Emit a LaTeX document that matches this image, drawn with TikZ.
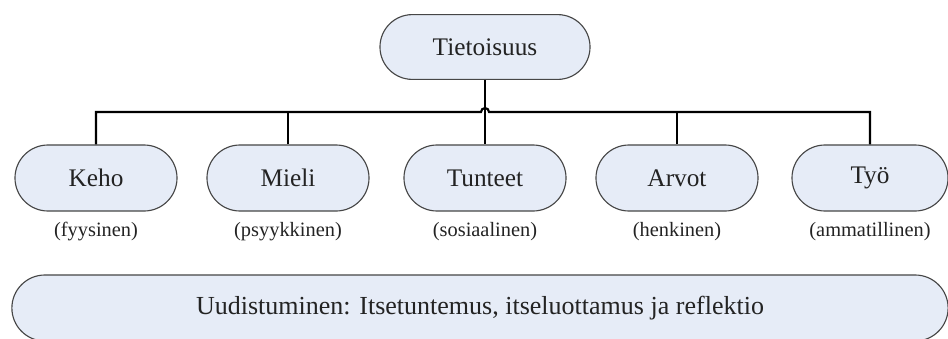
\documentclass[tikz,border=0pt]{standalone}
\usepackage{fontspec}
\setmainfont{Liberation Serif}
\usetikzlibrary{shapes.misc}
\definecolor{boxfill}{RGB}{230,236,247}
\definecolor{boxline}{RGB}{70,70,70}
\definecolor{txt}{RGB}{35,35,35}
\tikzset{
  ovalbox/.style={rounded rectangle, draw=boxline, line width=0.8pt, fill=boxfill,
    inner sep=0pt, text=txt, font=\fontsize{18}{21}\selectfont},
  subtext/.style={text=txt, font=\fontsize{14.5}{17}\selectfont},
  bus/.style={line width=1.5pt}
}
\begin{document}
\begin{tikzpicture}[x=0.025cm,y=0.025cm]
            \useasboundingbox (0,0) rectangle (948,338);
            \clip (0,0) rectangle (948,338);
            \node[ovalbox, minimum width=5.25cm, minimum height=1.62cm] (top) at (485,291) {Tietoisuus};
            \node[ovalbox, minimum width=4.05cm, minimum height=1.65cm] (keho) at (96,160) {Keho};
            \node[ovalbox, minimum width=4.05cm, minimum height=1.65cm] (mieli) at (288,160) {Mieli};
            \node[ovalbox, minimum width=4.05cm, minimum height=1.65cm] (tunteet) at (485,160) {Tunteet};
            \node[ovalbox, minimum width=4.05cm, minimum height=1.65cm] (arvot) at (677,160) {Arvot};
            \node[ovalbox, minimum width=3.9cm, minimum height=1.65cm] (tyo) at (870,160) {Työ};
            \node[subtext] (kehot) at (96,106) {(fyysinen)};
            \node[subtext] (mielit) at (288,106) {(psyykkinen)};
            \node[subtext] (tunteett) at (485,106) {(sosiaalinen)};
            \node[subtext] (arvott) at (677,106) {(henkinen)};
            \node[subtext] (tyot) at (870,106) {(ammatillinen)};
            \node[ovalbox, minimum width=23.4cm, minimum height=1.65cm, font=\fontsize{18.5}{22}\selectfont] (uudist) at (480,30)
              {Uudistuminen: Itsetuntemus, itseluottamus ja reflektio};
            \coordinate (hopL) at (481,226);
            \draw[bus] (top.south) -- (tunteet.north);
            \draw[bus] (keho.north) |- (hopL) arc[start angle=180, end angle=0, radius=0.1cm] -| (tyo.north);
            \draw[bus] (mieli.north) -- (mieli.north |- hopL);
            \draw[bus] (arvot.north) -- (arvot.north |- hopL);
         \end{tikzpicture}
\end{document}
